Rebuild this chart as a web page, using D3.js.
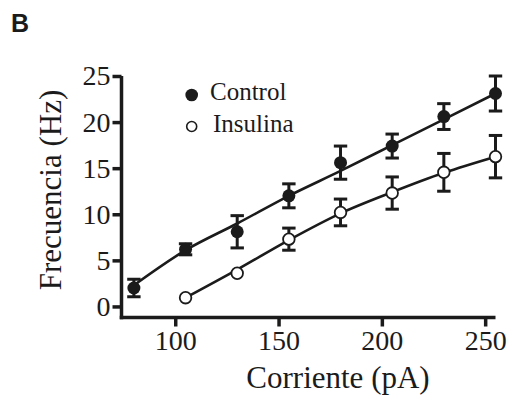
<!DOCTYPE html>
<html><head><meta charset="utf-8">
<script src="https://cdn.jsdelivr.net/npm/d3@7"></script>
<style>body{margin:0;background:#fff}svg{display:block}</style>
</head><body><svg id="c" width="522" height="412"></svg>
<script>
const currents = [80, 105, 130, 155, 180, 205, 230, 255];
const controlMean = [2.0, 6.2, 8.1, 12.0, 15.6, 17.4, 20.6, 23.1];
const controlErr = [0.95, 0.6, 1.75, 1.3, 1.8, 1.3, 1.4, 1.9];
const controlFit = [2.3, 6.1, 9.0, 12.0, 14.7, 17.5, 20.3, 23.1];
const insulinaX = [105, 130, 155, 180, 205, 230, 255];
const insulinaMean = [0.95, 3.6, 7.3, 10.2, 12.3, 14.55, 16.25];
const insulinaErr = [0, 0, 1.2, 1.45, 1.75, 2.05, 2.3];
const insulinaFit = [0.95, 4.0, 7.2, 10.1, 12.4, 14.5, 16.25];
const xTicks = [100, 150, 200, 250];
const yTicks = [0, 5, 10, 15, 20, 25];
const legendLabels = ["Control", "Insulina"];

const ink = "#1b1b1b";
const svg = d3.select("#c");
const x = d3.scaleLinear().domain([74, 255]).range([121.5, 495.5]);
const y = d3.scaleLinear().domain([-1.2, 25]).range([317.5, 76]);

// axes
const xa = svg.append("g").attr("transform", `translate(0,${y(-1.2)})`)
  .call(d3.axisBottom(x).tickValues(xTicks).tickSizeOuter(0).tickSize(9).tickPadding(4));
const ya = svg.append("g").attr("transform", `translate(${x(74)},0)`)
  .call(d3.axisLeft(y).tickValues(yTicks).tickSizeOuter(0).tickSize(9).tickPadding(2));
[xa, ya].forEach(a => {
  a.select(".domain").attr("stroke", ink).attr("stroke-width", 3.5);
  a.selectAll(".tick line").attr("stroke", ink).attr("stroke-width", 3.5);
  a.selectAll(".tick text").attr("fill", ink)
    .style("font-family", "'Liberation Serif', serif").style("font-size", "28px");
});
ya.select(".domain").attr("d", `M0,${y(25)}V${y(-1.2) + 1.75}`);
xa.select(".domain").attr("d", `M${x(74) - 1.75},0H${x(255)}`);

// axis titles
svg.append("text").attr("x", 338).attr("y", 388).attr("text-anchor", "middle")
  .attr("fill", ink).style("font-family", "'Liberation Serif', serif").style("font-size", "31px")
  .text("Corriente (pA)");
svg.append("text").attr("transform", "translate(61,190) rotate(-90)").attr("text-anchor", "middle")
  .attr("fill", ink).style("font-family", "'Liberation Serif', serif").style("font-size", "31px")
  .text("Frecuencia (Hz)");

// panel label
svg.append("text").attr("x", 11).attr("y", 32).attr("fill", ink)
  .style("font-family", "'Liberation Sans', Arial, sans-serif").style("font-weight", "bold").style("font-size", "25px")
  .text("B");

// fit lines
const line = d3.line().x(d => x(d[0])).y(d => y(d[1])).curve(d3.curveMonotoneX);
svg.append("path").datum(currents.map((c, i) => [c, controlFit[i]]))
  .attr("d", line).attr("fill", "none").attr("stroke", ink).attr("stroke-width", 2.6);
svg.append("path").datum(insulinaX.map((c, i) => [c, insulinaFit[i]]))
  .attr("d", line).attr("fill", "none").attr("stroke", ink).attr("stroke-width", 2.6);

// error bars
function errBars(xs, ms, es) {
  const g = svg.append("g").attr("stroke", ink).attr("stroke-width", 3).attr("fill", "none");
  xs.forEach((c, i) => {
    if (!es[i]) return;
    const cx = x(c), t = y(ms[i] + es[i]), b = y(ms[i] - es[i]);
    g.append("line").attr("x1", cx).attr("x2", cx).attr("y1", t).attr("y2", b);
    g.append("line").attr("x1", cx - 6.7).attr("x2", cx + 6.7).attr("y1", t).attr("y2", t);
    g.append("line").attr("x1", cx - 6.7).attr("x2", cx + 6.7).attr("y1", b).attr("y2", b);
  });
}
errBars(currents, controlMean, controlErr);
errBars(insulinaX, insulinaMean, insulinaErr);

// markers
svg.append("g").selectAll("circle").data(currents).join("circle")
  .attr("cx", d => x(d)).attr("cy", (d, i) => y(controlMean[i])).attr("r", 6.5).attr("fill", ink);
svg.append("g").selectAll("circle").data(insulinaX).join("circle")
  .attr("cx", d => x(d)).attr("cy", (d, i) => y(insulinaMean[i])).attr("r", 5.8)
  .attr("fill", "#fff").attr("stroke", ink).attr("stroke-width", 1.8);

// legend
svg.append("circle").attr("cx", 191.7).attr("cy", 95).attr("r", 6.3).attr("fill", ink);
svg.append("circle").attr("cx", 191.7).attr("cy", 126.5).attr("r", 5).attr("fill", "#fff")
  .attr("stroke", ink).attr("stroke-width", 1.6);
svg.selectAll(".leg").data(legendLabels).join("text").attr("class", "leg")
  .attr("x", (d, i) => i ? 213 : 210).attr("y", (d, i) => i ? 132 : 99.5)
  .attr("fill", ink).style("font-family", "'Liberation Serif', serif").style("font-size", "25px")
  .text(d => d);
</script></body></html>
